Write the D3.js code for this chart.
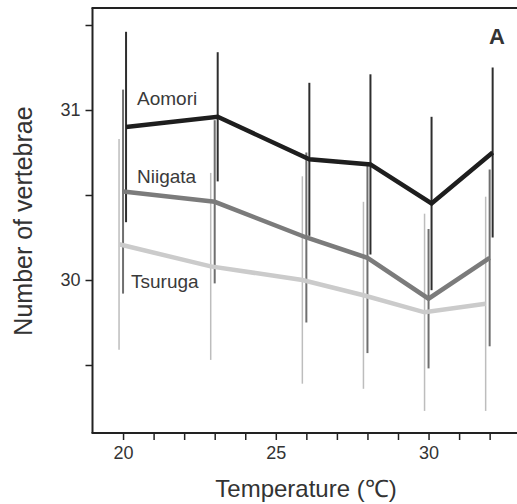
<!DOCTYPE html>
<html>
<head>
<meta charset="utf-8">
<script src="https://cdn.jsdelivr.net/npm/d3@7/dist/d3.min.js"></script>
<style>
  html, body { margin: 0; padding: 0; background: #fff; }
  svg { display: block; }
  text { font-family: "Liberation Sans", Arial, Helvetica, sans-serif; }
</style>
</head>
<body>
<svg id="chart" width="517" height="504"></svg>
<script>
// ---- data ----
const temperatures = [20, 23, 26, 28, 30, 32];
const aomoriMean  = [30.90, 30.96, 30.71, 30.68, 30.45, 30.75];
const aomoriSD    = [0.56, 0.38, 0.45, 0.53, 0.51, 0.50];
const niigataMean = [30.52, 30.46, 30.25, 30.13, 29.89, 30.13];
const niigataSD   = [0.60, 0.48, 0.50, 0.56, 0.41, 0.52];
const tsurugaMean = [30.21, 30.08, 30.00, 29.91, 29.81, 29.86];
const tsurugaSD   = [0.62, 0.55, 0.61, 0.55, 0.58, 0.63];
const seriesNames = ["Tsuruga", "Niigata", "Aomori"];
const xTickValues = [20, 21, 22, 23, 24, 25, 26, 27, 28, 29, 30, 31, 32];
const xTickLabels = [20, 25, 30];
const yTickValues = [29.5, 30, 30.5, 31, 31.5];
const yTickLabels = [30, 31];

// ---- styles ----
const style = {
  Tsuruga: { line: "#cbcbcb", lw: 4.5, bar: "#bdbdbd", bw: 1.5, dx: -4, lx: 131, ly: 288 },
  Niigata: { line: "#7b7b7b", lw: 4.5, bar: "#6f6f6f", bw: 2,   dx: 0,  lx: 137, ly: 183 },
  Aomori:  { line: "#1e1e1e", lw: 4.5, bar: "#2e2e2e", bw: 2,   dx: 3,  lx: 137, ly: 105 }
};
const means = { Tsuruga: tsurugaMean, Niigata: niigataMean, Aomori: aomoriMean };
const sds = { Tsuruga: tsurugaSD, Niigata: niigataSD, Aomori: aomoriSD };

const svg = d3.select("#chart");
const x = d3.scaleLinear().domain([19, 33]).range([92.5, 520.2]);
const y = d3.scaleLinear().domain([29.1, 31.6]).range([433, 8]);

// axes
const xAxis = d3.axisBottom(x).tickValues(xTickValues).tickSize(7).tickPadding(6)
  .tickFormat(d => xTickLabels.includes(d) ? d : "");
const yAxis = d3.axisLeft(y).tickValues(yTickValues).tickSize(7).tickPadding(5)
  .tickFormat(d => yTickLabels.includes(d) ? d : "");

const gx = svg.append("g").attr("transform", `translate(0,${y(29.1)})`).call(xAxis);
gx.select(".domain").remove();
gx.selectAll(".tick line").attr("stroke", "#222").attr("stroke-width", 1.5);
gx.selectAll(".tick text").attr("font-size", 18).attr("fill", "#333");

const gy = svg.append("g").attr("transform", `translate(${x(19)},0)`).call(yAxis);
gy.select(".domain").remove();
gy.selectAll(".tick line").attr("stroke", "#222").attr("stroke-width", 1.5);
gy.selectAll(".tick text").attr("font-size", 18).attr("fill", "#333");

// frame lines: left axis, bottom axis, top border
svg.append("line").attr("x1", x(19)).attr("x2", x(19)).attr("y1", y(31.6)).attr("y2", y(29.1))
  .attr("stroke", "#222").attr("stroke-width", 2);
svg.append("line").attr("x1", x(19) - 1).attr("x2", 517).attr("y1", y(29.1)).attr("y2", y(29.1))
  .attr("stroke", "#222").attr("stroke-width", 2);
svg.append("line").attr("x1", x(19) - 1).attr("x2", 517).attr("y1", y(31.6)).attr("y2", y(31.6))
  .attr("stroke", "#222").attr("stroke-width", 2);

// error bars
seriesNames.forEach(name => {
  const s = style[name];
  svg.append("g").selectAll("line").data(temperatures).join("line")
    .attr("x1", (t) => x(t) + s.dx).attr("x2", (t) => x(t) + s.dx)
    .attr("y1", (t, i) => y(means[name][i] + sds[name][i]))
    .attr("y2", (t, i) => y(means[name][i] - sds[name][i]))
    .attr("stroke", s.bar).attr("stroke-width", s.bw);
});

// mean lines
seriesNames.forEach(name => {
  const s = style[name];
  const line = d3.line().x(d => x(d[0]) + s.dx).y(d => y(d[1]));
  svg.append("path")
    .datum(temperatures.map((t, i) => [t, means[name][i]]))
    .attr("d", line).attr("fill", "none")
    .attr("stroke", s.line).attr("stroke-width", s.lw).attr("stroke-linejoin", "miter");
});

// series labels
seriesNames.forEach(name => {
  const s = style[name];
  svg.append("text").attr("x", s.lx).attr("y", s.ly).attr("font-size", 19)
    .attr("fill", "#3a3a3a").text(name);
});

// panel label
svg.append("text").attr("x", 497).attr("y", 44).attr("text-anchor", "middle")
  .attr("font-size", 22).attr("font-weight", "bold").attr("fill", "#333").text("A");

// axis titles
svg.append("text").attr("x", 306).attr("y", 497).attr("text-anchor", "middle")
  .attr("font-size", 24).attr("fill", "#333").text("Temperature (℃)");
svg.append("text").attr("transform", "translate(32,221) rotate(-90)").attr("text-anchor", "middle")
  .attr("font-size", 25).attr("fill", "#333").text("Number of vertebrae");
</script>
</body>
</html>
